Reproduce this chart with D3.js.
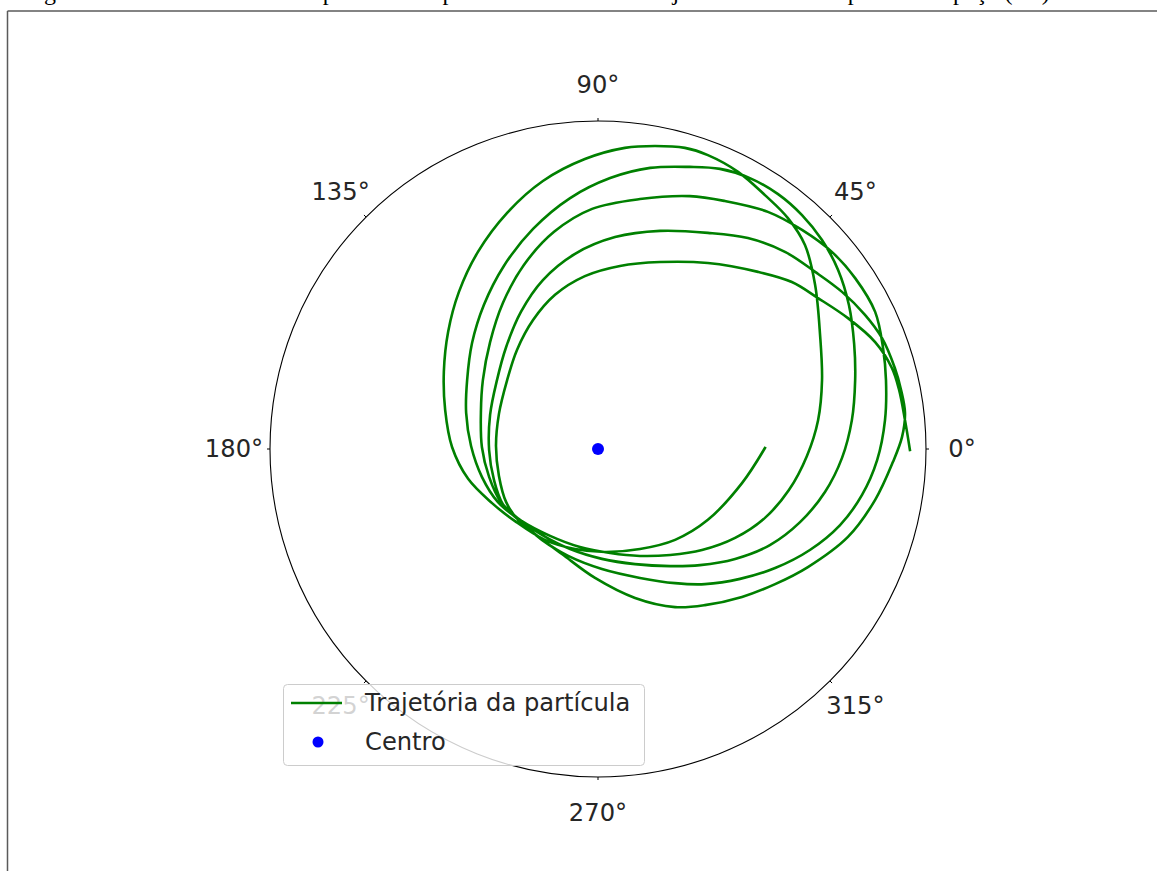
<!DOCTYPE html>
<html>
<head>
<meta charset="utf-8">
<script src="https://cdn.jsdelivr.net/npm/d3@7"></script>
<style>
  html, body { margin: 0; padding: 0; background: #fff; }
  svg { display: block; }
</style>
</head>
<body>
<svg id="chart" width="1157" height="871"></svg>
<script>
// Particle path, Cartesian coordinates in units of the outer radius
const trajX = [
  0.509, 0.439, 0.335, 0.235, 0.128, 0.021, -0.070, -0.162, -0.253,
  -0.323, -0.396, -0.445, -0.466, -0.470, -0.457, -0.424, -0.366, -0.277, -0.168, -0.040,
  0.082, 0.174, 0.265, 0.335, 0.427, 0.509, 0.579, 0.631, 0.662, 0.677, 0.683,
  0.671, 0.637, 0.582, 0.509, 0.418, 0.317, 0.220, 0.128, 0.037, -0.055, -0.146, -0.238,
  -0.305, -0.354, -0.387, -0.402, -0.399, -0.384, -0.348, -0.287, -0.198, -0.085, 0.037,
  0.159, 0.280, 0.372, 0.463, 0.549, 0.622, 0.683, 0.732, 0.765, 0.781, 0.784,
  0.774, 0.744, 0.692, 0.616, 0.524, 0.418, 0.311, 0.220, 0.113, 0.012, -0.085, -0.171, -0.238,
  -0.296, -0.332, -0.354, -0.357, -0.351, -0.329, -0.290, -0.226, -0.134, -0.018, 0.128,
  0.280, 0.387, 0.518, 0.622, 0.713, 0.784, 0.845, 0.869, 0.878,
  0.875, 0.851, 0.805, 0.738, 0.646, 0.540, 0.433, 0.326, 0.235, 0.128, 0.012, -0.091, -0.171, -0.235,
  -0.290, -0.317, -0.332, -0.329, -0.308, -0.280, -0.235, -0.168, -0.070, 0.052, 0.189,
  0.335, 0.457, 0.570, 0.662, 0.744, 0.814, 0.866, 0.905, 0.924, 0.936,
  0.927, 0.899, 0.845, 0.762, 0.640, 0.540, 0.439, 0.326, 0.235, 0.113, -0.009, -0.110, -0.192, -0.244,
  -0.280, -0.302, -0.311, -0.302, -0.277, -0.247, -0.198, -0.131, -0.040, 0.067, 0.189,
  0.335, 0.488, 0.591, 0.671, 0.762, 0.845, 0.896, 0.918, 0.936, 0.951
];
const trajY = [
  0.003, -0.104, -0.216, -0.277, -0.305, -0.314, -0.305, -0.277, -0.220,
  -0.165, -0.091, 0.006, 0.119, 0.235, 0.357, 0.479, 0.601, 0.720, 0.817, 0.884,
  0.918, 0.924, 0.918, 0.896, 0.845, 0.774, 0.704, 0.622, 0.500, 0.348, 0.210,
  0.088, -0.021, -0.125, -0.210, -0.271, -0.308, -0.323, -0.326, -0.317, -0.299, -0.265, -0.216,
  -0.162, -0.085, 0.009, 0.110, 0.210, 0.323, 0.439, 0.558, 0.671, 0.765, 0.826,
  0.857, 0.860, 0.854, 0.826, 0.777, 0.713, 0.637, 0.546, 0.439, 0.320, 0.210,
  0.088, -0.027, -0.131, -0.223, -0.293, -0.335, -0.354, -0.357, -0.351, -0.335, -0.305, -0.262, -0.216,
  -0.162, -0.085, 0.006, 0.113, 0.210, 0.326, 0.445, 0.561, 0.662, 0.732, 0.762,
  0.771, 0.756, 0.723, 0.668, 0.601, 0.521, 0.418, 0.308, 0.210,
  0.088, -0.034, -0.140, -0.232, -0.308, -0.363, -0.396, -0.412, -0.409, -0.393, -0.366, -0.326, -0.277, -0.223,
  -0.168, -0.095, -0.003, 0.104, 0.210, 0.311, 0.418, 0.515, 0.595, 0.646, 0.665,
  0.659, 0.643, 0.601, 0.540, 0.479, 0.409, 0.338, 0.247, 0.180, 0.110,
  0.037, -0.040, -0.155, -0.268, -0.360, -0.412, -0.451, -0.476, -0.482, -0.454, -0.393, -0.320, -0.259, -0.216,
  -0.162, -0.082, 0.009, 0.107, 0.210, 0.302, 0.393, 0.470, 0.527, 0.558, 0.570,
  0.567, 0.540, 0.509, 0.460, 0.399, 0.326, 0.247, 0.180, 0.088, -0.003
];
const centerPoint = [0, 0];
const rMax = 1.0;
const thetaTicks = [0, 45, 90, 135, 180, 225, 270, 315];
const thetaLabels = thetaTicks.map(d => d + "°");
const legendLabels = ["Trajetória da partícula", "Centro"];
const captionText = "Figura 1 – Movimento de uma partícula no plano mostrando sua trajetória no sistema polar no espaço (2D)";

const svg = d3.select("#chart");
const W = 1157, H = 871;
const cx = 598, cy = 449, R = 328;
const tickFont = "'DejaVu Sans', sans-serif";
const fontSize = 24.2;

// Page frame and the caption above it (only its lower edge lies inside the page)
svg.append("text")
  .attr("x", 24).attr("y", 0)
  .attr("font-family", "'Liberation Serif', 'Times New Roman', serif")
  .attr("font-size", 24)
  .attr("fill", "#000")
  .text(captionText);
svg.append("line").attr("x1", 7.5).attr("x2", W).attr("y1", 11).attr("y2", 11)
  .attr("stroke", "#5a5a5a").attr("stroke-width", 1.5);
svg.append("line").attr("x1", 7.5).attr("x2", 7.5).attr("y1", 11).attr("y2", H)
  .attr("stroke", "#5a5a5a").attr("stroke-width", 1.5);

const r = d3.scaleLinear().domain([0, rMax]).range([0, R]);
const ang = d3.scaleLinear().domain([0, 360]).range([0, 2 * Math.PI]);
const px = x => cx + r(x);
const py = y => cy - r(y);

const g = svg.append("g");

// Outer boundary of the polar axes
g.append("circle").attr("cx", cx).attr("cy", cy).attr("r", r(rMax))
  .attr("fill", "none").attr("stroke", "#000").attr("stroke-width", 1.1);

// Small theta ticks
g.selectAll(".tick").data(thetaTicks).join("line")
  .attr("x1", d => cx + r(rMax) * Math.cos(ang(d)))
  .attr("y1", d => cy - r(rMax) * Math.sin(ang(d)))
  .attr("x2", d => cx + (r(rMax) + 3) * Math.cos(ang(d)))
  .attr("y2", d => cy - (r(rMax) + 3) * Math.sin(ang(d)))
  .attr("stroke", "#000").attr("stroke-width", 1);

// Theta labels
const labR = r(rMax) + 36;
g.selectAll(".tlabel").data(thetaTicks).join("text")
  .attr("x", d => cx + labR * Math.cos(ang(d)))
  .attr("y", d => cy - labR * Math.sin(ang(d)))
  .attr("text-anchor", "middle")
  .attr("dominant-baseline", "central")
  .attr("font-family", tickFont).attr("font-size", fontSize)
  .attr("fill", "#262626")
  .text((d, i) => thetaLabels[i]);

// Trajectory
const pts = trajX.map((x, i) => [x, trajY[i]]);
const line = d3.line().x(d => px(d[0])).y(d => py(d[1])).curve(d3.curveCatmullRom.alpha(0.5));
g.append("path").datum(pts)
  .attr("d", line)
  .attr("fill", "none").attr("stroke", "#008000").attr("stroke-width", 2.6)
  .attr("stroke-linejoin", "round").attr("stroke-linecap", "square");

// Centre marker
g.append("circle").attr("cx", px(centerPoint[0])).attr("cy", py(centerPoint[1])).attr("r", 6)
  .attr("fill", "#0000ff");

// Legend
const lg = svg.append("g").attr("transform", "translate(283,684)");
lg.append("rect").attr("x", 0.5).attr("y", 0.5).attr("width", 361).attr("height", 81)
  .attr("rx", 4).attr("fill", "#fff").attr("fill-opacity", 0.8)
  .attr("stroke", "#cccccc").attr("stroke-width", 1);
lg.append("line").attr("x1", 8).attr("x2", 59).attr("y1", 19).attr("y2", 19)
  .attr("stroke", "#008000").attr("stroke-width", 2.6);
lg.append("circle").attr("cx", 35).attr("cy", 58).attr("r", 5.5).attr("fill", "#0000ff");
lg.selectAll(".ltext").data(legendLabels).join("text")
  .attr("x", 82).attr("y", (d, i) => 19 + i * 39)
  .attr("dominant-baseline", "central")
  .attr("font-family", tickFont).attr("font-size", fontSize)
  .attr("fill", "#262626")
  .text(d => d);
</script>
</body>
</html>
